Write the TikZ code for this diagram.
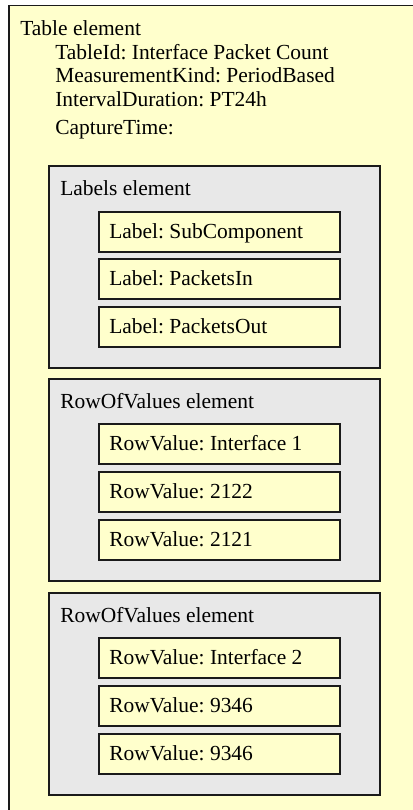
\documentclass[tikz,border=0pt]{standalone}
\usepackage{fontspec}
\setmainfont{Liberation Serif}
\usetikzlibrary{calc}
\definecolor{paleyellow}{HTML}{FFFFCC}
\definecolor{panelgray}{HTML}{E8E8E8}
\definecolor{edge}{HTML}{1A1A1A}
\tikzset{
  outerbox/.style={draw=edge, line width=1.2pt, fill=paleyellow, rectangle, inner sep=0pt, anchor=north west},
  panel/.style={draw=edge, line width=1.2pt, fill=panelgray, rectangle, inner sep=0pt, anchor=north west,
    minimum width=331*0.75pt, minimum height=202*0.75pt},
  field/.style={draw=edge, line width=1.2pt, fill=paleyellow, rectangle, inner sep=0pt, anchor=north west,
    minimum width=241*0.75pt, minimum height=40*0.75pt},
  txt/.style={anchor=base west, inner sep=0pt, font=\fontsize{16.1}{19}\selectfont\frenchspacing},
}
\begin{document}
\begin{tikzpicture}[x=0.75pt, y=-0.75pt]
\useasboundingbox (0,0) rectangle (413,810);
\clip (0,0) rectangle (413,810);
\fill[white] (0,0) rectangle (413,810);

% table container (runs past the right and bottom edges)
\node[outerbox, minimum width=430*0.75pt, minimum height=830*0.75pt] (table) at (8,4.5) {};
\node[txt] (tname) at (20,35) {Table element};
\node[txt] (tid)   at (55,59) {TableId: Interface Packet Count};
\node[txt] (tkind) at (55,82) {MeasurementKind: PeriodBased};
\node[txt] (tdur)  at (55,106) {IntervalDuration: PT24h};
\node[txt] (tcap)  at (55,134) {CaptureTime:};

% labels element
\node[panel] (labels) at (48,165) {};
\node[txt] at ($(labels.north west)+(12,30)$) {Labels element};
\node[field] (lab1) at (98,211) {};
\node[field] (lab2) at (98,258) {};
\node[field] (lab3) at (98,306) {};
\node[txt] at ($(lab1.north west)+(11,27)$) {Label: SubComponent};
\node[txt] at ($(lab2.north west)+(11,27)$) {Label: PacketsIn};
\node[txt] at ($(lab3.north west)+(11,27)$) {Label: PacketsOut};

% first row of values
\node[panel] (rowa) at (48,378) {};
\node[txt] at ($(rowa.north west)+(12,30)$) {RowOfValues element};
\node[field] (ra1) at (98,423) {};
\node[field] (ra2) at (98,471) {};
\node[field] (ra3) at (98,519) {};
\node[txt] at ($(ra1.north west)+(11,27)$) {RowValue: Interface 1};
\node[txt] at ($(ra2.north west)+(11,27)$) {RowValue: 2122};
\node[txt] at ($(ra3.north west)+(11,27)$) {RowValue: 2121};

% second row of values
\node[panel] (rowb) at (48,592) {};
\node[txt] at ($(rowb.north west)+(12,30)$) {RowOfValues element};
\node[field] (rb1) at (98,637) {};
\node[field] (rb2) at (98,685) {};
\node[field] (rb3) at (98,733) {};
\node[txt] at ($(rb1.north west)+(11,27)$) {RowValue: Interface 2};
\node[txt] at ($(rb2.north west)+(11,27)$) {RowValue: 9346};
\node[txt] at ($(rb3.north west)+(11,27)$) {RowValue: 9346};
\end{tikzpicture}
\end{document}
